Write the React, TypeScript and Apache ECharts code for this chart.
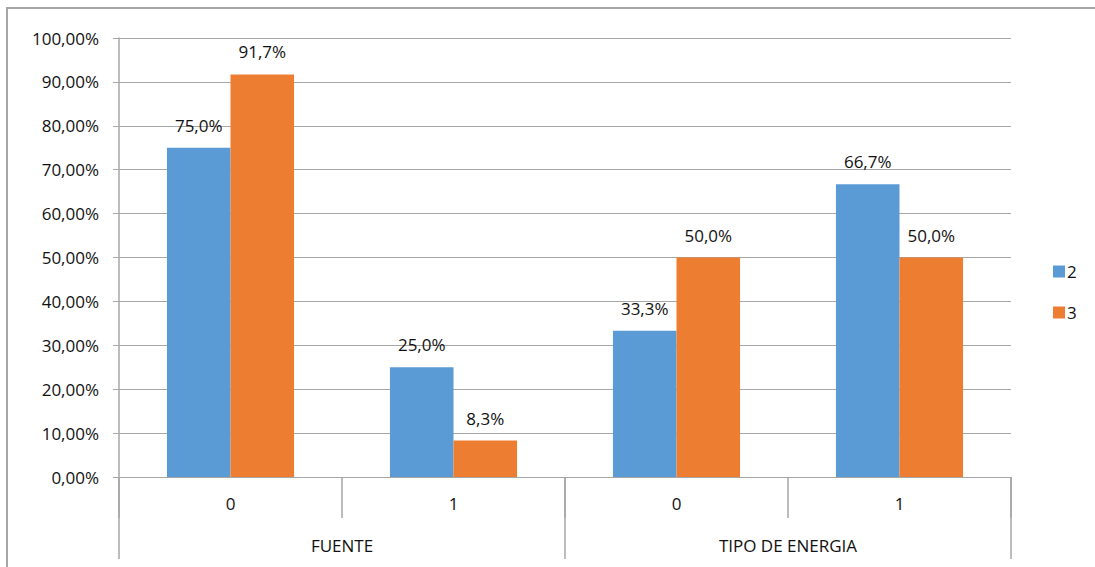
import React, { useEffect, useRef } from "react";
import * as echarts from "echarts";

// Sub-categories (first axis level) and their parent groups (second level)
const categories = ["0", "1", "0", "1"];
const groups = ["FUENTE", "TIPO DE ENERGIA"];

// Share of each category per series (fraction of 1)
const serie2 = [0.75, 0.25, 0.333, 0.667];
const serie3 = [0.917, 0.083, 0.5, 0.5];
const seriesNames = ["2", "3"];

// Y axis ticks: 0% .. 100% every 10%
const yMin = 0;
const yMax = 1;
const yStep = 0.1;

const FONT = "'Open Sans', 'Noto Sans', sans-serif";
const TEXT = "#111111";
const GRID = "#a6a6a6";
const FS = 17;

const pct = (v: number, d: number) => (v * 100).toFixed(d).replace(".", ",") + "%";

export default function App() {
  const ref = useRef<HTMLDivElement>(null);

  useEffect(() => {
    if (!ref.current) return;
    const chart = echarts.init(ref.current, null, { renderer: "svg" });

    const barLabel = {
      show: true,
      position: "top" as const,
      distance: 14,
      color: TEXT,
      fontFamily: FONT,
      fontSize: FS,
      formatter: (p: any) => pct(p.value, 1),
    };

    chart.setOption({
      animation: false,
      backgroundColor: "#ffffff",
      graphic: [
        {
          type: "rect",
          shape: { x: 7, y: 8, width: 1200, height: 700 },
          style: { fill: "none", stroke: GRID, lineWidth: 2 },
          silent: true,
        },
      ],
      legend: {
        orient: "vertical",
        left: 1048,
        top: 258,
        itemWidth: 12,
        itemHeight: 12,
        itemGap: 24,
        icon: "rect",
        textStyle: { color: TEXT, fontFamily: FONT, fontSize: FS, padding: [0, 0, 0, -3] },
        data: seriesNames,
      },
      grid: { left: 119, right: 84, top: 38, bottom: 90, containLabel: false },
      xAxis: [
        {
          type: "category",
          data: categories,
          position: "bottom",
          axisLine: { show: true, lineStyle: { color: GRID, width: 1 } },
          axisTick: { show: true, length: 41, lineStyle: { color: GRID, width: 1.5 } },
          axisLabel: { color: TEXT, fontFamily: FONT, fontSize: FS, margin: 18 },
          splitLine: { show: false },
        },
        {
          type: "category",
          data: groups,
          position: "bottom",
          axisLine: { show: false },
          axisTick: { show: true, length: 82, lineStyle: { color: GRID, width: 1.5 } },
          axisLabel: { color: TEXT, fontFamily: FONT, fontSize: FS, margin: 60 },
          splitLine: { show: false },
        },
      ],
      yAxis: {
        type: "value",
        min: yMin,
        max: yMax,
        interval: yStep,
        axisLine: { show: true, lineStyle: { color: GRID, width: 1.5 } },
        axisTick: { show: true, length: 6, lineStyle: { color: GRID, width: 1 } },
        axisLabel: {
          color: TEXT,
          fontFamily: FONT,
          fontSize: FS,
          margin: 20,
          formatter: (v: number) => pct(v, 2),
        },
        splitLine: { show: true, lineStyle: { color: GRID, width: 1 } },
      },
      series: [
        {
          name: seriesNames[0],
          type: "bar",
          data: serie2,
          xAxisIndex: 0,
          barGap: "0%",
          barCategoryGap: "43%",
          itemStyle: { color: "#5b9bd5" },
          label: barLabel,
        },
        {
          name: seriesNames[1],
          type: "bar",
          data: serie3,
          xAxisIndex: 0,
          barGap: "0%",
          barCategoryGap: "43%",
          itemStyle: { color: "#ed7d31" },
          label: barLabel,
        },
      ],
    });

    return () => chart.dispose();
  }, []);

  return (
    <div
      ref={ref}
      style={{ position: "fixed", left: 0, top: 0, width: 1095, height: 567, background: "#fff" }}
    />
  );
}
